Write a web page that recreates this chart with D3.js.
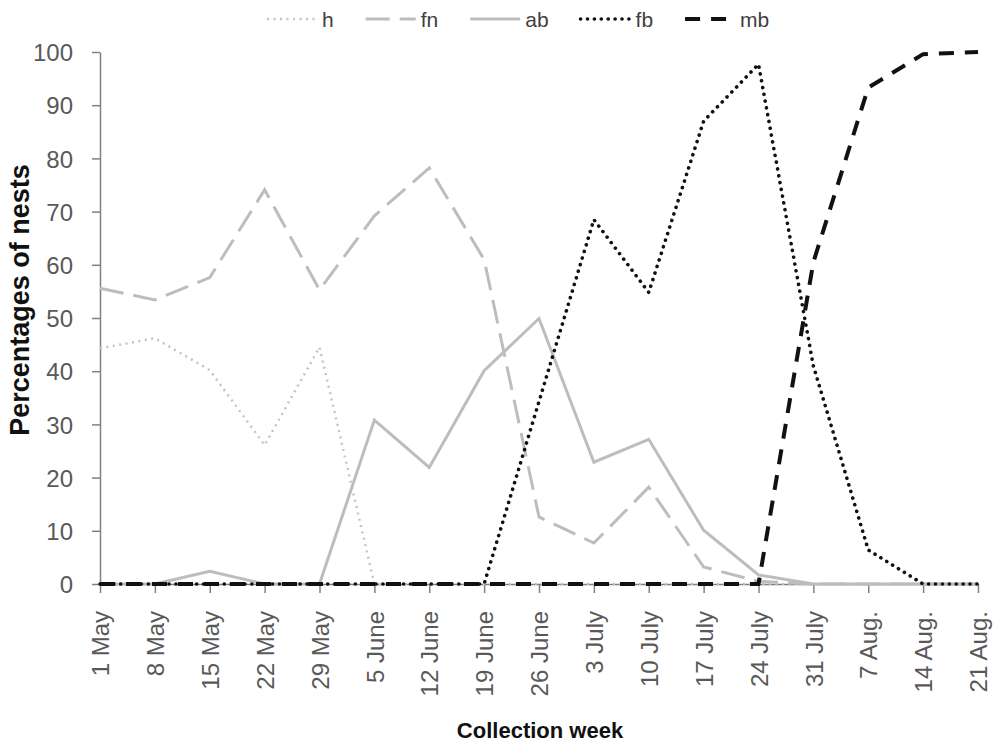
<html>
<head>
<meta charset="UTF-8"/>
<script src="https://d3js.org/d3.v7.min.js"></script>
<style>
body { margin: 0; background: #fff; }
svg { display: block; }
text { font-family: 'Liberation Sans', Arial, sans-serif; }
.axis path, .axis line { stroke: #808080; stroke-width: 1.5; }
.axis text { font-size: 24px; fill: #595959; }
text.label { font-weight: bold; fill: #111; }
.legend text { font-size: 21px; fill: #404040; }
</style>
</head>
<body>
<svg width="999" height="747"></svg>
<script>
const weeks = ["1 May", "8 May", "15 May", "22 May", "29 May", "5 June", "12 June", "19 June",
  "26 June", "3 July", "10 July", "17 July", "24 July", "31 July", "7 Aug.", "14 Aug.", "21 Aug."];
const yTicks = [0, 10, 20, 30, 40, 50, 60, 70, 80, 90, 100];

const h  = [44.3, 46.2, 40.2, 26.1, 44.5, 0, 0, 0, 0, 0, 0, 0, 0, 0, 0, 0, 0];
const fn = [55.6, 53.4, 57.6, 74.1, 55.3, 69.2, 78.2, 61, 12.6, 7.7, 18.2, 3.2, 0.5, 0, 0, 0, 0];
const ab = [0, 0, 2.4, 0, 0, 30.8, 21.9, 40.1, 49.9, 22.9, 27.2, 10.1, 1.7, 0, 0, 0, 0];
const fb = [0, 0, 0, 0, 0, 0, 0, 0, 34.3, 68.5, 54.8, 87, 97.7, 41, 6.4, 0, 0];
const mb = [0, 0, 0, 0, 0, 0, 0, 0, 0, 0, 0, 0, 0, 60.5, 93.3, 99.6, 100];

const seriesNames = ["h", "fn", "ab", "fb", "mb"];
const seriesValues = [h, fn, ab, fb, mb];

// line looks per series
const styles = {
  h:  { color: "#c4c4c4", width: 2.5, dash: "2 4.5", cap: "butt" },
  fn: { color: "#bdbdbd", width: 3, dash: "24 10", cap: "butt" },
  ab: { color: "#bdbdbd", width: 3, dash: null, cap: "butt" },
  fb: { color: "#111", width: 3.6, dash: "0.1 6.8", cap: "round" },
  mb: { color: "#111", width: 4, dash: "15 11", cap: "butt" }
};

const svg = d3.select("svg");
const m = { left: 100, right: 978, top: 52, bottom: 584 };

const x = d3.scalePoint().domain(weeks).range([m.left, m.right]);
const y = d3.scaleLinear().domain([0, 100]).range([m.bottom, m.top]);

// y axis
svg.append("g")
  .attr("class", "axis")
  .attr("transform", `translate(${m.left},0)`)
  .call(d3.axisLeft(y).tickValues(yTicks).tickSize(8).tickPadding(19).tickSizeOuter(0))
  .call(g => g.selectAll("text").attr("dy", "0.36em"));

// x axis
const xg = svg.append("g")
  .attr("class", "axis")
  .attr("transform", `translate(0,${m.bottom})`)
  .call(d3.axisBottom(x).tickSize(9).tickSizeOuter(0));

xg.selectAll("text")
  .attr("text-anchor", "end")
  .attr("transform", "rotate(-90)")
  .attr("x", -27)
  .attr("y", 0)
  .attr("dy", "0.36em");

const line = d3.line()
  .x((d, i) => x(weeks[i]))
  .y(d => y(d));

seriesNames.forEach((name, k) => {
  const s = styles[name];
  svg.append("path")
    .datum(seriesValues[k])
    .attr("fill", "none")
    .attr("stroke", s.color)
    .attr("stroke-width", s.width)
    .attr("stroke-dasharray", s.dash)
    .attr("stroke-linecap", s.cap)
    .attr("stroke-linejoin", "miter")
    .attr("d", line);
});

// axis titles
svg.append("text")
  .attr("class", "label")
  .attr("transform", "rotate(-90)")
  .attr("x", -300)
  .attr("y", 29)
  .attr("text-anchor", "middle")
  .style("font-size", "27px")
  .text("Percentages of nests");

svg.append("text")
  .attr("class", "label")
  .attr("x", 540)
  .attr("y", 738)
  .attr("text-anchor", "middle")
  .style("font-size", "22px")
  .text("Collection week");

// legend
const legend = svg.append("g").attr("class", "legend");
let lx = 267;
seriesNames.forEach(name => {
  const s = styles[name];
  legend.append("line")
    .attr("x1", lx).attr("x2", lx + 50)
    .attr("y1", 19).attr("y2", 19)
    .attr("stroke", s.color)
    .attr("stroke-width", s.width)
    .attr("stroke-dasharray", s.dash)
    .attr("stroke-linecap", s.cap);
  const t = legend.append("text")
    .attr("x", lx + 55)
    .attr("y", 27)
    .text(name);
  lx += 55 + t.node().getComputedTextLength() + 32;
});
</script>
</body>
</html>
